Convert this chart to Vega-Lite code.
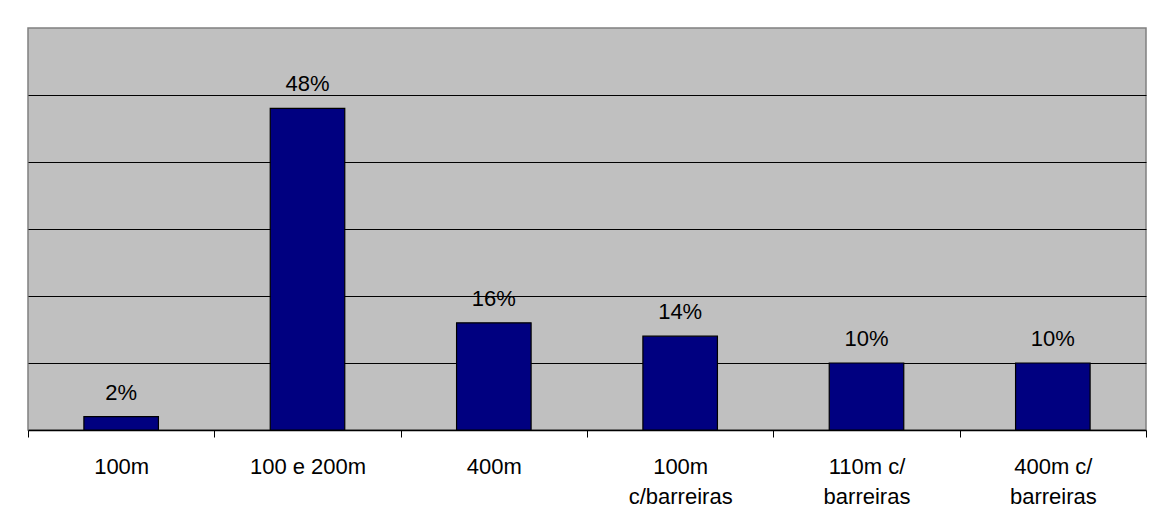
{
  "$schema": "https://vega.github.io/schema/vega-lite/v6.json",
  "autosize": "none",
  "width": 1118,
  "height": 402,
  "padding": {"left": 28, "top": 28, "right": 5, "bottom": 99},
  "background": "white",
  "config": {
    "font": "Liberation Sans",
    "view": {"fill": "#C0C0C0", "stroke": "#808080", "strokeWidth": 1.5}
  },
  "data": {
    "values": [
      {"prova": "100m", "pct": 0.02},
      {"prova": "100 e 200m", "pct": 0.48},
      {"prova": "400m", "pct": 0.16},
      {"prova": "100m|c/barreiras", "pct": 0.14},
      {"prova": "110m c/|barreiras", "pct": 0.10},
      {"prova": "400m c/|barreiras", "pct": 0.10}
    ]
  },
  "encoding": {
    "x": {
      "field": "prova",
      "type": "nominal",
      "sort": null,
      "scale": {"paddingInner": 0, "paddingOuter": 0},
      "axis": {
        "title": null,
        "labelAngle": 0,
        "labelExpr": "split(datum.label, '|')",
        "labelFontSize": 22,
        "labelColor": "black",
        "labelLineHeight": 30,
        "labelPadding": 19,
        "labelBaseline": "top",
        "tickBand": "extent",
        "tickSize": 7,
        "tickColor": "black",
        "domainColor": "black",
        "domainWidth": 1.5,
        "grid": false
      }
    },
    "y": {
      "field": "pct",
      "type": "quantitative",
      "scale": {"domain": [0, 0.6], "nice": false},
      "axis": {
        "title": null,
        "labels": false,
        "ticks": false,
        "domain": false,
        "grid": true,
        "gridColor": "black",
        "gridWidth": 1.2,
        "gridOpacity": 1,
        "values": [0.1, 0.2, 0.3, 0.4, 0.5]
      }
    }
  },
  "layer": [
    {
      "mark": {"type": "bar", "width": {"band": 0.4}, "color": "#000080", "stroke": "black", "strokeWidth": 1.2}
    },
    {
      "mark": {"type": "text", "baseline": "alphabetic", "dy": -17, "fontSize": 22, "color": "black"},
      "encoding": {"text": {"field": "pct", "type": "quantitative", "format": ".0%"}}
    }
  ]
}
